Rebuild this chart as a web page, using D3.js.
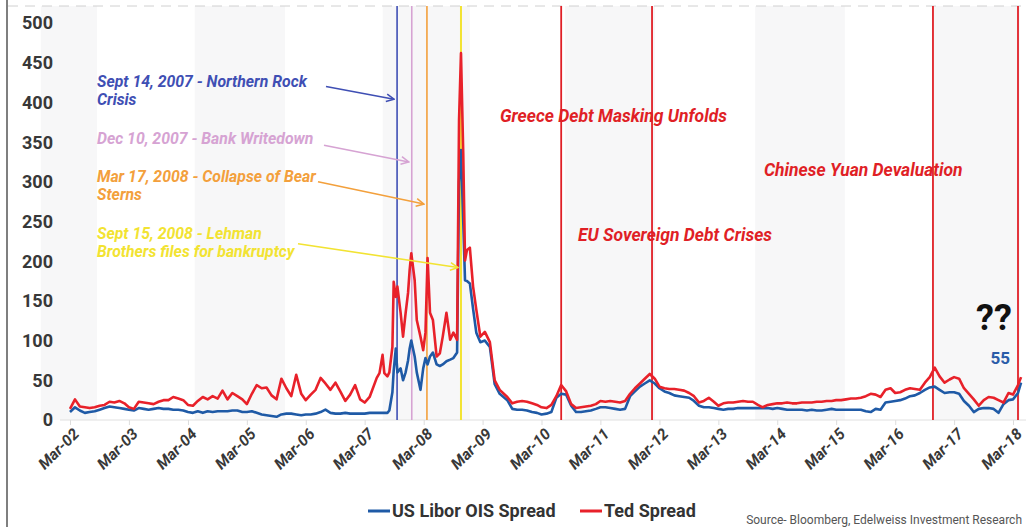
<!DOCTYPE html>
<html>
<head>
<meta charset="utf-8">
<script src="https://cdn.jsdelivr.net/npm/d3@7"></script>
<style>
  html, body { margin: 0; padding: 0; background: #fff; }
  svg { display: block; font-family: Roboto, "Noto Sans", sans-serif; }
</style>
</head>
<body>
<div id="chart"></div>
<script>
// x axis tick labels (also used as tick dates)
const xTickLabels = ['Mar-02', 'Mar-03', 'Mar-04', 'Mar-05', 'Mar-06', 'Mar-07', 'Mar-08', 'Mar-09', 'Mar-10',
    'Mar-11', 'Mar-12', 'Mar-13', 'Mar-14', 'Mar-15', 'Mar-16', 'Mar-17', 'Mar-18'];
const yTicks = [0, 50, 100, 150, 200, 250, 300, 350, 400, 450, 500];

// observation dates (monthly, denser through the 2007-09 crisis)
const dates = [
    '2002-03', '2002-04', '2002-05', '2002-06', '2002-07', '2002-08', '2002-09', '2002-10', '2002-11', '2002-12',
    '2003-01', '2003-02', '2003-03', '2003-04', '2003-05', '2003-06', '2003-07', '2003-08', '2003-09', '2003-10', '2003-11', '2003-12',
    '2004-01', '2004-02', '2004-03', '2004-04', '2004-05', '2004-06', '2004-07', '2004-08', '2004-09', '2004-10', '2004-11', '2004-12',
    '2005-01', '2005-02', '2005-03', '2005-04', '2005-05', '2005-06', '2005-07', '2005-08', '2005-09', '2005-10', '2005-11', '2005-12',
    '2006-01', '2006-02', '2006-03', '2006-04', '2006-05', '2006-06', '2006-07', '2006-08', '2006-09', '2006-10', '2006-11', '2006-12',
    '2007-01', '2007-02', '2007-03',
    '2007-04-01', '2007-05-15', '2007-06-01', '2007-06-20', '2007-07-01', '2007-07-20', '2007-08-01', '2007-08-20', '2007-08-28',
    '2007-09-10', '2007-09-20', '2007-10-10', '2007-10-25', '2007-11-10', '2007-11-25', '2007-12-05', '2007-12-15',
    '2008-01-05', '2008-01-18', '2008-02-10', '2008-02-27', '2008-03-12', '2008-03-25', '2008-04-09', '2008-04-27',
    '2008-05-20', '2008-06-09', '2008-06-27', '2008-07-20', '2008-08-12', '2008-09-01', '2008-09-24', '2008-10-06',
    '2008-10-18', '2008-11-01', '2008-11-12', '2008-11-24', '2008-12-12', '2009-01-01', '2009-01-21', '2009-02-15',
    '2009-03-15', '2009-04-15', '2009-05-15', '2009-06-15',
    '2009-08', '2009-09', '2009-10', '2009-11', '2009-12',
    '2010-01', '2010-02', '2010-03', '2010-04', '2010-05', '2010-06', '2010-07', '2010-08', '2010-09', '2010-10', '2010-11', '2010-12',
    '2011-01', '2011-02', '2011-03', '2011-04', '2011-05', '2011-06', '2011-07', '2011-08', '2011-09', '2011-10', '2011-11', '2011-12',
    '2012-01', '2012-02', '2012-03', '2012-04', '2012-05', '2012-06', '2012-07', '2012-08', '2012-09', '2012-10', '2012-11', '2012-12',
    '2013-01', '2013-02', '2013-03', '2013-04', '2013-05', '2013-06', '2013-07', '2013-08', '2013-09', '2013-10', '2013-11', '2013-12',
    '2014-01', '2014-02', '2014-03', '2014-04', '2014-05', '2014-06', '2014-07', '2014-08', '2014-09', '2014-10', '2014-11', '2014-12',
    '2015-01', '2015-02', '2015-03', '2015-04', '2015-05', '2015-06', '2015-07', '2015-08', '2015-09', '2015-10', '2015-11', '2015-12',
    '2016-01', '2016-02', '2016-03', '2016-04', '2016-05', '2016-06', '2016-07', '2016-08', '2016-09', '2016-10', '2016-11', '2016-12',
    '2017-01', '2017-02', '2017-03', '2017-04', '2017-05', '2017-06', '2017-07', '2017-08', '2017-09', '2017-10', '2017-11', '2017-12',
    '2018-01', '2018-02', '2018-03', '2018-04', '2018-04-20'
];

// Ted Spread (bp)
const tedSpread = [
    14, 26, 17, 16, 15, 16, 18, 19, 23, 22,
    24, 21, 16, 14, 23, 22, 21, 20, 23, 25, 25, 29,
    27, 25, 19, 18, 24, 29, 26, 30, 27, 37, 26, 34,
    30, 26, 20, 33, 44, 40, 41, 31, 26, 52, 40, 30,
    57, 33, 25, 32, 38, 53, 46, 38, 47, 36, 24, 32,
    44, 26, 22,
    29, 53, 59, 82, 59, 55, 60, 92, 174,
    155, 168, 135, 105, 135, 160, 189, 210,
    176, 126, 105, 88, 110, 204, 135, 126,
    80, 84, 105, 135, 101, 110, 101, 378,
    462, 336, 201, 214, 217, 168, 139, 105,
    111, 98, 50, 38,
    29, 21, 23, 24, 23,
    21, 19, 16, 15, 19, 30, 44, 36, 20, 15, 16, 17,
    18, 20, 24, 23, 24, 23, 22, 24, 33, 40, 46, 52,
    58, 52, 42, 40, 39, 39, 38, 37, 34, 30, 22, 24,
    28, 23, 18, 21, 22, 22, 23, 24, 23, 23, 19, 16,
    19, 20, 21, 21, 22, 21, 21, 22, 22, 22, 23, 23,
    24, 24, 25, 25, 26, 27, 27, 28, 30, 33, 32, 29,
    38, 40, 34, 35, 38, 40, 39, 38, 47, 54, 66, 55,
    47, 51, 54, 52, 40, 33, 26, 18, 25, 29, 28, 25,
    22, 34, 32, 44, 54
];

// US Libor OIS Spread (bp)
const liborOis = [
    10, 16, 12, 9, 10, 11, 13, 15, 17, 16,
    15, 14, 13, 12, 15, 14, 13, 14, 15, 14, 14, 13,
    13, 12, 10, 9, 11, 9, 11, 10, 11, 11, 11, 12,
    12, 10, 10, 11, 9, 7, 6, 5, 4, 7, 8, 8,
    7, 6, 7, 7, 8, 10, 13, 9, 8, 8, 9, 8,
    8, 8, 8,
    9, 9, 9, 9, 9, 9, 12, 35, 62,
    90, 60, 65, 50, 60, 75, 90, 100,
    80, 60, 38, 65, 78, 70, 80, 85,
    70, 68, 70, 74, 76, 78, 85, 300,
    340, 250, 176, 175, 172, 140, 110, 98,
    100, 92, 45, 33,
    25, 14, 13, 13, 12,
    10, 9, 7, 8, 10, 28, 33, 32, 18, 10, 10, 11,
    12, 14, 16, 16, 15, 14, 13, 14, 30, 36, 42, 46,
    50, 46, 40, 36, 34, 31, 30, 29, 28, 24, 18, 16,
    16, 15, 14, 13, 14, 14, 15, 15, 15, 15, 15, 15,
    15, 14, 15, 14, 13, 13, 13, 13, 12, 13, 12, 12,
    13, 14, 13, 13, 13, 13, 13, 13, 11, 10, 14, 13,
    22, 23, 24, 25, 27, 30, 31, 34, 38, 41, 42, 38,
    34, 35, 35, 33, 24, 18, 10, 14, 15, 15, 14, 9,
    20, 25, 26, 34, 47
];
const lastValueLabel = 55;

// crisis markers on the left, with labels
const crisisDates = ['2007-09-18', '2007-12-18', '2008-03-21', '2008-10-18'];
const crisisLabels = [
    ['Sept 14, 2007 - Northern Rock', 'Crisis'],
    ['Dec  10, 2007 - Bank Writedown'],
    ['Mar 17, 2008 - Collapse of Bear', 'Sterns'],
    ['Sept 15, 2008 - Lehman', 'Brothers files for bankruptcy']
];
const crisisColors = ['#3f4fb4', '#d6a3d3', '#f3a03c', '#f2e332'];

// later events (red markers)
const eventDates = ['2010-07-01', '2012-01-15', '2016-10-21', '2018-04-01'];
const eventLabels = ['Greece Debt Masking Unfolds', 'EU Sovereign Debt Crises', 'Chinese Yuan Devaluation'];

// alternating shaded bands
const bandRanges = [
    ['2001-09-01', '2002-08-15'], ['2004-04-12', '2005-10-24'], ['2007-06-21', '2008-12-12'],
    ['2010-07-24', '2012-02-03'], ['2013-10-15', '2015-04-24'], ['2016-10-21', '2018-04-12']
];

const seriesNames = ['US Libor OIS Spread', 'Ted Spread'];
const seriesColors = ['#1f5aa6', '#e8212a'];

const W = 1026, H = 527;
const parseDate = s => s.length === 7 ? d3.timeParse('%Y-%m')(s) : d3.timeParse('%Y-%m-%d')(s);
const parseTick = d3.timeParse('%b-%y');

const svg = d3.select('#chart').append('svg')
    .attr('width', W)
    .attr('height', H);

const x = d3.scaleTime()
    .domain([parseTick('Mar-02'), parseTick('Mar-18')])
    .range([70, 1013]);

const y = d3.scaleLinear()
    .domain([0, 500])
    .range([420, 23]);

const plotTop = 6, plotLeft = 8;

// bands
svg.append('g')
    .selectAll('rect')
    .data(bandRanges)
    .join('rect')
    .attr('x', d => Math.max(plotLeft, x(parseDate(d[0]))))
    .attr('width', d => x(parseDate(d[1])) - Math.max(plotLeft, x(parseDate(d[0]))))
    .attr('y', plotTop)
    .attr('height', y(0) - plotTop)
    .attr('fill', '#f7f7f8');

// frame: left border + dashed top
svg.append('line')
    .attr('x1', 7).attr('x2', 7).attr('y1', 0).attr('y2', H)
    .attr('stroke', '#555').attr('stroke-width', 1.5);
svg.append('line')
    .attr('x1', plotLeft).attr('x2', W).attr('y1', plotTop).attr('y2', plotTop)
    .attr('stroke', '#d0d0d0').attr('stroke-dasharray', '10,7');

// y axis labels
svg.append('g')
    .selectAll('text')
    .data(yTicks)
    .join('text')
    .attr('x', 53)
    .attr('y', d => y(d))
    .attr('dy', '0.36em')
    .attr('text-anchor', 'end')
    .attr('fill', '#383838')
    .style('font-size', '18px')
    .style('font-weight', 700)
    .text(d => d);

// x axis
const xAxis = svg.append('g')
    .attr('transform', `translate(0,${y(0)})`)
    .call(d3.axisBottom(x)
        .tickValues(xTickLabels.map(parseTick))
        .tickSize(5)
        .tickFormat(''));
xAxis.select('.domain').attr('stroke', '#e0e0e0').attr('d', `M60,0H${W}`);
xAxis.selectAll('.tick line').attr('stroke', '#ddd');

svg.append('g')
    .selectAll('text')
    .data(xTickLabels)
    .join('text')
    .attr('transform', d => `translate(${x(parseTick(d)) + 10},${y(0) + 15}) rotate(-45)`)
    .attr('text-anchor', 'end')
    .attr('fill', '#383838')
    .style('font-size', '15.5px')
    .style('font-weight', 700)
    .style('font-style', 'italic')
    .text(d => d);

// event vertical lines
svg.append('g')
    .selectAll('line')
    .data(crisisDates)
    .join('line')
    .attr('x1', d => x(parseDate(d)))
    .attr('x2', d => x(parseDate(d)))
    .attr('y1', plotTop)
    .attr('y2', y(0))
    .attr('stroke', (d, i) => crisisColors[i])
    .attr('stroke-width', (d, i) => i === 3 ? 2 : 1.6);

svg.append('g')
    .selectAll('line')
    .data(eventDates)
    .join('line')
    .attr('x1', d => x(parseDate(d)))
    .attr('x2', d => x(parseDate(d)))
    .attr('y1', plotTop)
    .attr('y2', y(0))
    .attr('stroke', '#e01f26')
    .attr('stroke-width', 1.8);

// series lines
const points = dates.map((d, i) => ({ date: parseDate(d), ted: tedSpread[i], libor: liborOis[i] }));

const line = key => d3.line()
    .x(d => x(d.date))
    .y(d => y(d[key]));

svg.append('path')
    .datum(points)
    .attr('fill', 'none')
    .attr('stroke', seriesColors[0])
    .attr('stroke-width', 2.6)
    .attr('stroke-linejoin', 'round')
    .attr('d', line('libor'));

svg.append('path')
    .datum(points)
    .attr('fill', 'none')
    .attr('stroke', seriesColors[1])
    .attr('stroke-width', 2.6)
    .attr('stroke-linejoin', 'round')
    .attr('d', line('ted'));

// arrow markers
const defs = svg.append('defs');
crisisColors.forEach((c, i) => {
    defs.append('marker')
        .attr('id', 'arrow' + i)
        .attr('viewBox', '0 0 10 10')
        .attr('refX', 9).attr('refY', 5)
        .attr('markerWidth', 6).attr('markerHeight', 6)
        .attr('orient', 'auto')
        .append('path')
        .attr('d', 'M1,1 L9,5 L1,9')
        .attr('fill', 'none')
        .attr('stroke', c)
        .attr('stroke-width', 1.6);
});

// crisis labels + arrows (label top in data units, arrow start / end heights)
const labelY = [420, 348, 300, 228];
const arrowFrom = [[326, 420], [324, 346], [318, 300], [298, 222]];
const arrowToY = [404, 325, 272, 192];

crisisLabels.forEach((lines, i) => {
    const t = svg.append('text')
        .attr('fill', crisisColors[i])
        .style('font-size', '15.8px')
        .style('font-weight', 700)
        .style('font-style', 'italic');
    lines.forEach((s, j) => {
        t.append('tspan')
            .attr('x', 97)
            .attr('y', y(labelY[i]) + j * 18)
            .text(s);
    });
    svg.append('line')
        .attr('x1', arrowFrom[i][0])
        .attr('y1', y(arrowFrom[i][1]))
        .attr('x2', x(parseDate(crisisDates[i])) - 3)
        .attr('y2', y(arrowToY[i]))
        .attr('stroke', crisisColors[i])
        .attr('stroke-width', 1.6)
        .attr('marker-end', `url(#arrow${i})`);
});

// red event labels
const eventLabelPos = [[500, 375], [578, 225], [764, 307]];
eventLabels.forEach((s, i) => {
    svg.append('text')
        .attr('x', eventLabelPos[i][0])
        .attr('y', y(eventLabelPos[i][1]))
        .attr('fill', '#e01f26')
        .style('font-size', '17.5px')
        .style('font-weight', 700)
        .style('font-style', 'italic')
        .text(s);
});

// "??" and last value
svg.append('text')
    .attr('x', 976).attr('y', 330)
    .attr('fill', '#111')
    .style('font-size', '36px')
    .style('font-weight', 700)
    .text('??');
svg.append('text')
    .attr('x', 1010).attr('y', 364)
    .attr('text-anchor', 'end')
    .attr('fill', '#2a5ca8')
    .style('font-size', '17px')
    .style('font-weight', 700)
    .text(lastValueLabel);

// legend
const legend = svg.append('g').attr('transform', 'translate(0,511)');
const legendX = [368, 580];
seriesNames.forEach((name, i) => {
    legend.append('line')
        .attr('x1', legendX[i]).attr('x2', legendX[i] + 22)
        .attr('y1', 0).attr('y2', 0)
        .attr('stroke', seriesColors[i])
        .attr('stroke-width', 3);
    legend.append('text')
        .attr('x', legendX[i] + 24)
        .attr('dy', '0.35em')
        .attr('fill', '#333')
        .style('font-family', '"Liberation Sans Narrow", Roboto, sans-serif')
        .style('font-size', '18px')
        .style('font-weight', 700)
        .text(name);
});

svg.append('text')
    .attr('x', 1022).attr('y', 524)
    .attr('text-anchor', 'end')
    .attr('fill', '#555')
    .style('font-family', '"Liberation Sans Narrow", Roboto, sans-serif')
    .style('font-size', '12px')
    .text('Source- Bloomberg,  Edelweiss Investment Research');
</script>
</body>
</html>
